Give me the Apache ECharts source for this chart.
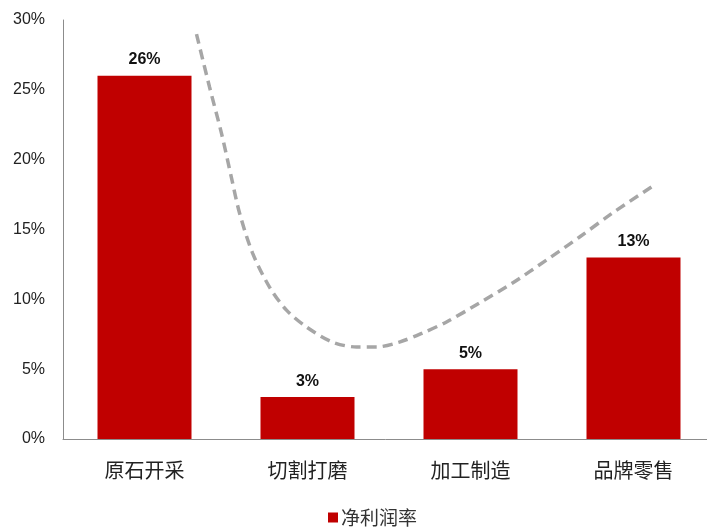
<!DOCTYPE html>
<html>
<head>
<meta charset="utf-8">
<script src="https://cdn.jsdelivr.net/npm/echarts@6/dist/echarts.min.js"></script>
<style>
html, body { margin: 0; padding: 0; background: #fff; }
#main { width: 707px; height: 529px; }
</style>
</head>
<body>
<div id="main"></div>
<script>
var categories = ['原石开采', '切割打磨', '加工制造', '品牌零售'];
var netMargin = [26, 3, 5, 13];
var yTicks = [0, 5, 10, 15, 20, 25, 30];

// smile curve, x in category units (0 = first category centre), y in %
var curveX = [0.319, 0.399, 0.472, 0.534, 0.583, 0.663, 0.767, 0.871, 0.994, 1.153, 1.301, 1.423, 1.564, 1.706, 1.853, 2.055, 2.258, 2.466, 2.669, 2.871, 3.110];
var curveY = [28.99, 25.20, 21.90, 18.68, 16.18, 13.31, 10.88, 9.23, 8.02, 6.94, 6.59, 6.59, 6.94, 7.59, 8.38, 9.74, 11.17, 12.81, 14.46, 16.18, 18.04];

var curveData = curveX.map(function (x, i) { return [x, curveY[i]]; });

var chart = echarts.init(document.getElementById('main'));

chart.setOption({
    animation: false,
    textStyle: { fontFamily: 'Liberation Sans, "Noto Sans CJK SC", sans-serif' },
    grid: { left: 63, width: 652, top: 20, bottom: 90, outerBoundsMode: 'none' },
    legend: {
        left: 323,
        top: 503,
        itemWidth: 10,
        itemHeight: 10,
        itemGap: 4,
        data: [{ name: '净利润率', icon: 'rect' }],
        textStyle: { fontSize: 19, color: '#333', fontFamily: '"Noto Sans CJK SC", sans-serif', padding: [0, 0, 0, -2] }
    },
    xAxis: [{
        type: 'category',
        data: categories,
        axisLine: { lineStyle: { color: '#8c8c8c', width: 1 } },
        axisTick: { show: false },
        axisLabel: { fontSize: 20, color: '#222', margin: 21, fontFamily: '"Noto Sans CJK SC", sans-serif' }
    }, {
        type: 'value',
        min: -0.5,
        max: 3.5,
        show: false
    }],
    yAxis: {
        type: 'value',
        min: yTicks[0],
        max: yTicks[yTicks.length - 1],
        interval: 5,
        splitLine: { show: false },
        axisLine: { show: true, onZero: false, lineStyle: { color: '#8c8c8c', width: 1 } },
        axisTick: { show: false },
        axisLabel: { fontSize: 16, color: '#222', margin: 18, formatter: '{value}%' }
    },
    series: [{
        name: '净利润率',
        type: 'bar',
        barWidth: 94,
        data: netMargin,
        itemStyle: { color: '#C00000' },
        label: {
            show: true,
            position: 'top',
            distance: 8,
            formatter: '{c}%',
            fontSize: 16,
            fontWeight: 'bold',
            color: '#111'
        }
    }, {
        name: 'curve',
        type: 'line',
        xAxisIndex: 1,
        smooth: 0.3,
        symbol: 'none',
        data: curveData,
        lineStyle: { color: '#A6A6A6', width: 3.5, type: [10, 6] },
        z: 3
    }]
});
</script>
</body>
</html>
